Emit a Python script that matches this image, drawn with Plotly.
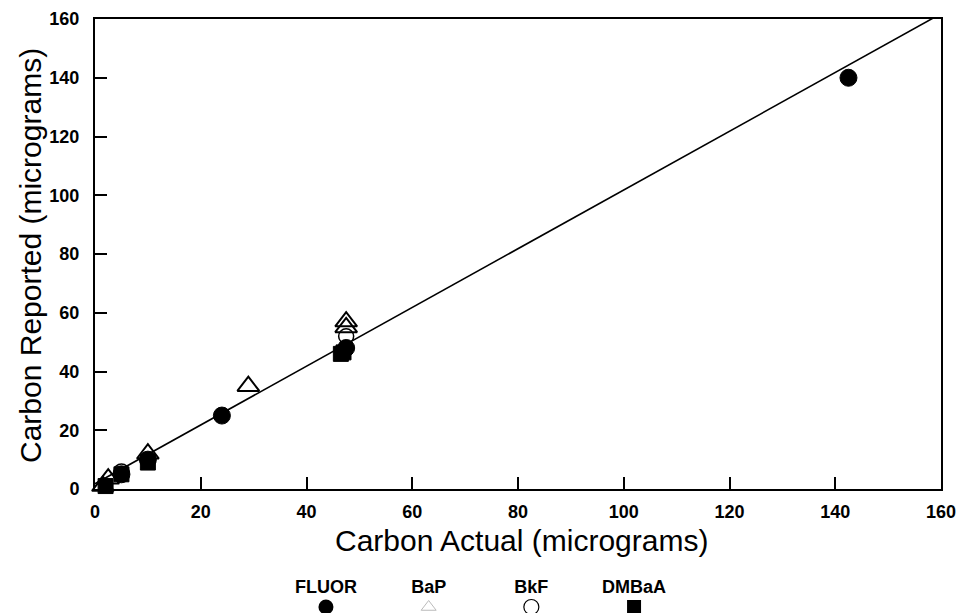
import plotly.graph_objects as go

# ---- data ----
fluor_x = [5, 10, 24, 47.5, 142.5]
fluor_y = [5, 10, 25, 48, 140]
bap_x = [1.5, 2.5, 10, 29, 47.5, 47.5]
bap_y = [1, 3.5, 12, 35, 55, 57]
bkf_x = [5, 10, 47.5]
bkf_y = [6, 10, 52]
dmbaa_x = [2, 5, 10, 47, 46.5]
dmbaa_y = [1, 5, 9, 46.5, 46]

fit_slope = 1.0
fit_intercept = 1.8
fit_x = [0, 160]

legend_names = ["FLUOR", "BaP", "BkF", "DMBaA"]

x_ticks = [0, 20, 40, 60, 80, 100, 120, 140, 160]
y_ticks = [0, 20, 40, 60, 80, 100, 120, 140, 160]

FONT = "Liberation Sans, Arial, sans-serif"

fig = go.Figure()

fig.add_trace(go.Scatter(
    x=fit_x, y=[fit_slope * v + fit_intercept for v in fit_x],
    mode="lines", line=dict(color="black", width=1.6), showlegend=False, hoverinfo="skip"))

styles = {
    "FLUOR": dict(symbol="circle", color="black", size=17, line=dict(color="black", width=1)),
    "BaP": dict(symbol="triangle-up-open", color="black", size=19, line=dict(color="black", width=2)),
    "BkF": dict(symbol="circle-open", color="black", size=15, line=dict(color="black", width=1.5)),
    "DMBaA": dict(symbol="square", color="black", size=15, line=dict(color="black", width=1)),
}
series = {
    "FLUOR": (fluor_x, fluor_y),
    "BaP": (bap_x, bap_y),
    "BkF": (bkf_x, bkf_y),
    "DMBaA": (dmbaa_x, dmbaa_y),
}
for name in ["BaP", "BkF", "FLUOR", "DMBaA"]:
    xs, ys = series[name]
    fig.add_trace(go.Scatter(x=xs, y=ys, mode="markers", name=name,
                             marker=styles[name], showlegend=False, cliponaxis=False))

# custom legend: labels above markers, on a hidden secondary axis pair
legend_marker_styles = {
    "FLUOR": dict(symbol="circle", color="black", size=15),
    "BaP": dict(symbol="triangle-up-open", color="#bbbbbb", size=13, line=dict(color="#cccccc", width=1)),
    "BkF": dict(symbol="circle-open", color="black", size=15, line=dict(color="black", width=1.2)),
    "DMBaA": dict(symbol="square", color="black", size=14),
}
for i, name in enumerate(legend_names):
    fig.add_trace(go.Scatter(x=[i], y=[0], mode="markers", marker=legend_marker_styles[name],
                             xaxis="x2", yaxis="y2", showlegend=False, cliponaxis=False, hoverinfo="skip"))
fig.add_trace(go.Scatter(x=list(range(len(legend_names))), y=[2.4] * len(legend_names), mode="text",
                         text=legend_names,
                         textfont=dict(family=FONT, size=18, color="black", weight="bold"),
                         xaxis="x2", yaxis="y2", showlegend=False, cliponaxis=False, hoverinfo="skip"))

H = 613
mt, mb = 19, 5
plot_h = H - mt - mb
main_bottom_px = 489
dom_bottom = 1 - (main_bottom_px - mt) / plot_h

fig.update_layout(
    width=961, height=613,
    margin=dict(l=95, r=20, t=mt, b=mb, autoexpand=False),
    paper_bgcolor="white", plot_bgcolor="white",
    font=dict(family=FONT, color="black"),
    xaxis=dict(range=[0, 160], tickvals=x_ticks, ticks="inside", ticklen=12, tickwidth=1.5,
               tickcolor="black", showline=True, linecolor="black", linewidth=2, mirror=True,
               showgrid=False, zeroline=False, tickfont=dict(size=18, family="Liberation Sans", weight="bold"),
               ticklabelstandoff=5, anchor="y", automargin=False),
    yaxis=dict(range=[0, 160], tickvals=y_ticks, ticks="inside", ticklen=12, tickwidth=1.5,
               tickcolor="black", showline=True, linecolor="black", linewidth=2, mirror=True,
               showgrid=False, zeroline=False, tickfont=dict(size=18, family="Liberation Sans", weight="bold"),
               ticklabelstandoff=10, domain=[dom_bottom, 1], automargin=False),
    xaxis2=dict(range=[-2.249, 5.989], visible=False, anchor="y2", domain=[0, 1], automargin=False),
    yaxis2=dict(range=[-0.13, 9.87], visible=False, anchor="x2", domain=[0, 0.13], automargin=False),
    annotations=[
        dict(text="Carbon Actual (micrograms)", x=(521 - 95) / 846, y=dom_bottom - (540 - main_bottom_px) / plot_h,
             xref="paper", yref="paper", showarrow=False, font=dict(size=30, family=FONT),
             xanchor="center", yanchor="middle"),
        dict(text="Carbon Reported (micrograms)", x=(30 - 95) / 846, y=1 - (256 - mt) / plot_h,
             xref="paper", yref="paper", showarrow=False, font=dict(size=30, family=FONT),
             textangle=-90, xanchor="center", yanchor="middle"),
    ],
)

fig.write_html("out.html", config={"displayModeBar": False},
               post_script="document.body.style.margin='0';document.body.style.overflow='hidden';")
